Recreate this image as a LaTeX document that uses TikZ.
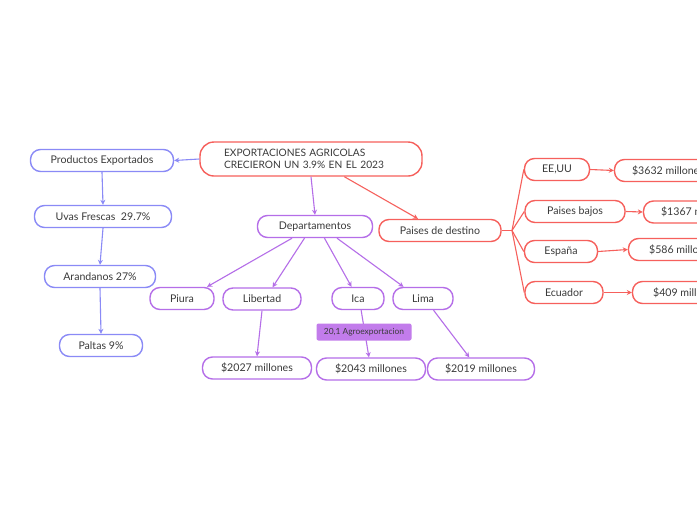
\documentclass[tikz,border=0pt]{standalone}
\usepackage{fontspec}
\setmainfont{Lato}
\usetikzlibrary{arrows.meta}
\usetikzlibrary{positioning}

\definecolor{rojo}{HTML}{F6605C}
\definecolor{azul}{HTML}{8A8AF6}
\definecolor{morado}{HTML}{B56EE8}
\definecolor{etiqueta}{HTML}{C27CEB}
\definecolor{texto}{HTML}{3A3A3A}

\begin{document}
\begin{tikzpicture}[x=1pt, y=-1pt,
		caja/.style={draw, line width=1.4pt, fill=white, rounded corners=10pt, minimum height=22pt, inner sep=2pt, text=texto, font=\fontsize{10.6}{12}\selectfont},
		cajaroja/.style={caja, draw=rojo},
		cajaazul/.style={caja, draw=azul},
		cajamorada/.style={caja, draw=morado},
		flecha/.style={line width=1.1pt, -{Stealth[length=5pt,width=5pt]}},
		]
		\useasboundingbox[fill=white] (0,0) rectangle (697,520);
		\clip (0,0) rectangle (697,520);

		% Nodes
		\node[cajaroja, align=left, text width=174pt, inner xsep=24pt, minimum height=34pt, rounded corners=14pt, font=\fontsize{10.2}{12.5}\selectfont] (central) at (311,159)
			{EXPORTACIONES AGRICOLAS\\CRECIERON UN 3.9\% EN EL 2023};

		\node[cajaazul, minimum width=143pt] (prod) at (102,160.5) {Productos Exportados};
		\node[cajaazul, minimum width=137pt] (uvas) at (103,216.5) {Uvas Frescas \ 29.7\%};
		\node[cajaazul, minimum width=111pt] (aran) at (100,276.5) {Arandanos 27\%};
		\node[cajaazul, minimum width=83pt] (paltas) at (101,345.5) {Paltas 9\%};

		\node[cajamorada, minimum width=115pt] (dep) at (315,226.5) {Departamentos};
		\node[cajamorada, minimum width=64pt] (piura) at (182,298.5) {Piura};
		\node[cajamorada, minimum width=78pt] (libertad) at (262,299) {Libertad};
		\node[cajamorada, minimum width=52pt] (ica) at (358,298.5) {Ica};
		\node[cajamorada, minimum width=60pt] (lima) at (423,298.5) {Lima};
		\node[cajamorada, minimum width=109pt] (v2027) at (257,368) {\$2027 millones};
		\node[cajamorada, minimum width=109pt] (v2043) at (371,369) {\$2043 millones};
		\node[cajamorada, minimum width=107pt] (v2019) at (481,369) {\$2019 millones};

		\node[cajaroja, minimum width=122pt] (paises) at (440,230.5) {Paises de destino};
		\coordinate (ramal) at (512,230.5);
		\node[cajaroja, minimum width=65pt] (eeuu) at (557,169.5) {EE,UU};
		\node[cajaroja, minimum width=100pt] (bajos) at (575,211.5) {Paises bajos};
		\node[cajaroja, minimum width=73pt] (espana) at (561,251.5) {España};
		\node[cajaroja, minimum width=78pt] (ecuador) at (564,292.5) {Ecuador};
		\node[cajaroja, minimum width=107pt] (v3632) at (668,170.5) {\$3632 millones};
		\node[cajaroja, minimum width=107pt] (v1367) at (697,212) {\$1367 millones};
		\node[cajaroja, minimum width=107pt] (v586) at (682,249.5) {\$586 millones};
		\node[cajaroja, minimum width=107pt] (v409) at (686,292.5) {\$409 millones};

		% Arrows
		\draw[flecha, azul] (central.west) -- (prod.east);
		\draw[flecha, azul] (prod.south) -- (uvas.north);
		\draw[flecha, azul] (uvas.south) -- (aran.north);
		\draw[flecha, azul] (aran.south) -- (paltas.north);

		\draw[flecha, morado] (central.south) -- (dep.north);
		\draw[flecha, morado] (dep.207) -- (piura.25);
		\draw[flecha, morado] (dep.228) -- (libertad.48);
		\draw[flecha, morado] (dep.309) -- (ica.119);
		\draw[flecha, morado] (dep.332) -- (lima.149);
		\draw[flecha, morado] (libertad.south) -- (v2027.north);
		\draw[flecha, morado] (ica.-75) -- (v2043.100);
		\draw[flecha, morado] (lima.-48) -- (v2019.135);

		\draw[flecha, rojo] (central.-28) -- (paises.152);
		\draw[line width=1.1pt, rojo] (paises.east) -- (ramal);
		\foreach \pais in {eeuu, bajos, espana, ecuador}
			\draw[line width=1.1pt, rojo] (ramal) -- (\pais.west);
		\draw[flecha, rojo] (eeuu.east) -- (v3632.west);
		\draw[flecha, rojo] (bajos.east) -- (v1367.west);
		\draw[flecha, rojo] (espana.east) -- (v586.west);
		\draw[flecha, rojo] (ecuador.east) -- (v409.west);

		% Label
		\node[fill=etiqueta, rounded corners=2pt, minimum width=95pt, minimum height=17pt, inner sep=1pt, text=texto, font=\fontsize{8.4}{9}\selectfont] (agro) at (364,332) {20,1 Agroexportacion};
	\end{tikzpicture}
\end{document}
